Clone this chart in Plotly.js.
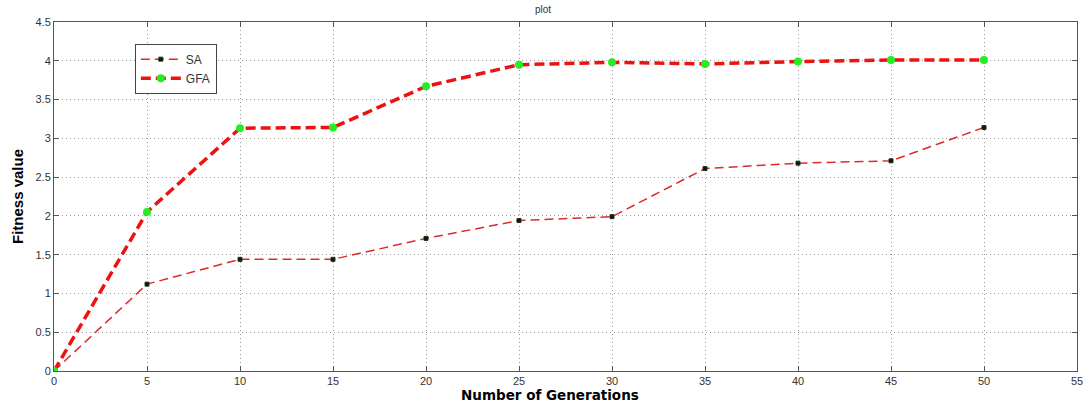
<!DOCTYPE html>
<html>
<head>
<meta charset="utf-8">
<script src="https://cdn.plot.ly/plotly-3.0.1.min.js"></script>
<style>html,body{margin:0;padding:0;background:#fff;}#chart{width:1086px;height:403px;}</style>
</head>
<body>
<div id="chart"></div>
<script>
var generations = [0, 5, 10, 15, 20, 25, 30, 35, 40, 45, 50];
var saValues = [0, 1.12, 1.44, 1.44, 1.71, 1.94, 1.99, 2.61, 2.68, 2.71, 3.14];
var gfaValues = [0, 2.05, 3.13, 3.14, 3.67, 3.95, 3.98, 3.96, 3.99, 4.01, 4.01];
var xTicks = [0, 5, 10, 15, 20, 25, 30, 35, 40, 45, 50, 55];
var yTicks = [0, 0.5, 1, 1.5, 2, 2.5, 3, 3.5, 4, 4.5];

var traces = [
  {
    x: generations, y: saValues, name: 'SA', type: 'scatter', mode: 'lines+markers',
    line: {color: '#dd2a2a', width: 1.5, dash: '9px,5px'},
    marker: {symbol: 'square', size: 4, color: '#111111', line: {color: '#1a3a1a', width: 1}}
  },
  {
    x: generations, y: gfaValues, name: 'GFA', type: 'scatter', mode: 'lines+markers',
    line: {color: '#ee1111', width: 3.5, dash: '10px,5px'},
    marker: {symbol: 'circle', size: 8, color: '#22ee22'}
  }
];

var axisCommon = {
  showline: true, linecolor: '#555', linewidth: 1, mirror: 'ticks',
  ticks: 'inside', ticklen: 5, tickcolor: '#555',
  showgrid: true, gridcolor: '#9a9a9a', griddash: '1px,3px', gridwidth: 1,
  zeroline: false,
  tickfont: {family: 'Liberation Sans, Arial, sans-serif', size: 11, color: '#333'}
};

var layout = {
  width: 1086, height: 403,
  margin: {l: 54, r: 9, t: 22, b: 32},
  paper_bgcolor: '#fff', plot_bgcolor: '#fff',
  title: {text: 'plot', font: {family: 'Liberation Sans, Arial, sans-serif', size: 10, color: '#333'}, x: 0.5, xanchor: 'center', y: 0.985, yanchor: 'top'},
  xaxis: Object.assign({}, axisCommon, {
    range: [0, 55], tickvals: xTicks, ticktext: xTicks.map(String)
  }),
  yaxis: Object.assign({}, axisCommon, {
    range: [0, 4.5], tickvals: yTicks, ticktext: yTicks.map(String),
    title: {text: '<b>Fitness value</b>', font: {family: 'Liberation Sans Narrow, Liberation Sans, Arial, sans-serif', size: 15, color: '#000'}, standoff: 8}
  }),
  annotations: [{
    text: '<b>Number of Generations</b>', xref: 'paper', yref: 'paper',
    x: 0.485, y: -0.068, xanchor: 'center', yanchor: 'middle', showarrow: false,
    font: {family: 'DejaVu Sans, sans-serif', size: 13.5, color: '#000'}
  }],
  showlegend: true,
  legend: {
    x: 0.079, y: 0.938, xanchor: 'left', yanchor: 'top',
    bgcolor: '#fff', bordercolor: '#444', borderwidth: 1,
    font: {family: 'Liberation Sans, Arial, sans-serif', size: 12, color: '#333'},
    tracegroupgap: 0, itemwidth: 40
  }
};

Plotly.newPlot('chart', traces, layout, {displayModeBar: false, staticPlot: true});
</script>
</body>
</html>
